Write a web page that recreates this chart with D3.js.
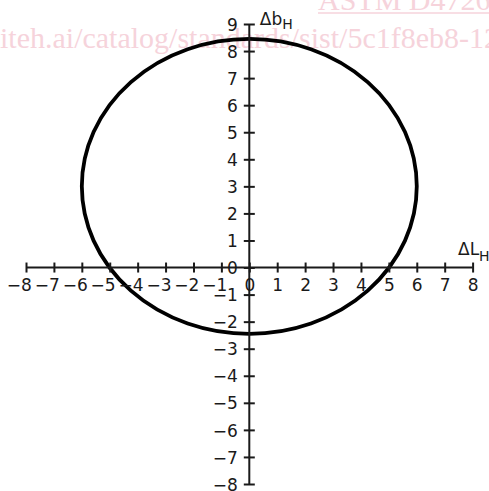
<!DOCTYPE html>
<html>
<head>
<meta charset="utf-8">
<script src="https://cdn.jsdelivr.net/npm/d3@7"></script>
<style>
  html, body { margin: 0; padding: 0; background: #fff; }
  svg { display: block; }
</style>
</head>
<body>
<svg id="chart" width="489" height="491"></svg>
<script>
// ---- data ----
const xDomain = [-8, 8];
const yDomain = [-8, 9];
const xTicks = [-8, -7, -6, -5, -4, -3, -2, -1, 0, 1, 2, 3, 4, 5, 6, 7, 8];
const yTicks = [-8, -7, -6, -5, -4, -3, -2, -1, 0, 1, 2, 3, 4, 5, 6, 7, 8, 9];
const ellipseCenter = [0, 3];     // [ΔL_H, Δb_H]
const ellipseRadii = [6, 5.45];   // [ΔL_H, Δb_H]
const xTitle = ["ΔL", "H"];
const yTitle = ["Δb", "H"];
const watermark = ["ASTM D4726", "iteh.ai/catalog/standards/sist/5c1f8eb8-12"];

// ---- layout ----
const svg = d3.select("#chart");
const x = d3.scaleLinear().domain(xDomain).range([26, 472.6]);
const y = d3.scaleLinear().domain(yDomain).range([484, 24]);
const fs = 17;
const font = "'DejaVu Sans', Verdana, sans-serif";
const halfDigit = 0.318 * fs;
const fmt = d => d < 0 ? "\u2212" + Math.abs(d) : String(d);

// watermark
const wm = svg.append("g").attr("fill", "#f6d3db")
  .attr("font-family", "'Liberation Serif', 'Times New Roman', serif")
  .attr("font-size", 30);
wm.append("text").attr("x", 318).attr("y", 10).text(watermark[0]);
wm.append("line").attr("x1", 318).attr("x2", 489).attr("y1", 13).attr("y2", 13)
  .attr("stroke", "#f6d3db").attr("stroke-width", 1.5);
wm.append("text").attr("x", 0).attr("y", 48).text(watermark[1]);

// ellipse
svg.append("ellipse")
  .attr("cx", x(ellipseCenter[0]))
  .attr("cy", y(ellipseCenter[1]))
  .attr("rx", x(ellipseRadii[0]) - x(0))
  .attr("ry", y(0) - y(ellipseRadii[1]))
  .attr("fill", "none")
  .attr("stroke", "#000")
  .attr("stroke-width", 3.8);

// x axis
const xAxis = d3.axisBottom(x).tickValues(xTicks).tickSize(0).tickFormat(fmt);
const gx = svg.append("g").attr("transform", `translate(0,${y(0)})`).call(xAxis);
gx.select(".domain").remove();
gx.append("line").attr("x1", x(xDomain[0])).attr("x2", x(xDomain[1]))
  .attr("stroke", "#1a1a1a").attr("stroke-width", 2);
gx.selectAll(".tick line").attr("y1", -5).attr("y2", 5)
  .attr("stroke", "#1a1a1a").attr("stroke-width", 2);
gx.selectAll(".tick text")
  .attr("font-family", font).attr("font-size", fs).attr("fill", "#1a1a1a")
  .attr("text-anchor", "end").attr("x", halfDigit).attr("y", 23.5).attr("dy", null);

// y axis
const yAxis = d3.axisLeft(y).tickValues(yTicks).tickSize(0).tickFormat(fmt);
const gy = svg.append("g").attr("transform", `translate(${x(0)},0)`).call(yAxis);
gy.select(".domain").remove();
gy.append("line").attr("y1", y(yDomain[0])).attr("y2", y(yDomain[1]))
  .attr("stroke", "#1a1a1a").attr("stroke-width", 2);
gy.selectAll(".tick line").attr("x1", -5.5).attr("x2", 5.5)
  .attr("stroke", "#1a1a1a").attr("stroke-width", 2);
gy.selectAll(".tick text")
  .attr("font-family", font).attr("font-size", fs).attr("fill", "#1a1a1a")
  .attr("text-anchor", "end").attr("x", -11.5).attr("dy", "0.36em");

// axis titles
const yt = svg.append("text").attr("x", x(0) + 10.5).attr("y", 25)
  .attr("font-family", font).attr("font-size", fs).attr("fill", "#1a1a1a");
yt.append("tspan").text(yTitle[0]);
yt.append("tspan").attr("font-size", 14).attr("dy", 3.5).text(yTitle[1]);

const xt = svg.append("text").attr("x", 458).attr("y", 255)
  .attr("font-family", font).attr("font-size", fs).attr("fill", "#1a1a1a");
xt.append("tspan").text(xTitle[0]);
xt.append("tspan").attr("font-size", 14).attr("dy", 6).text(xTitle[1]);
</script>
</body>
</html>
